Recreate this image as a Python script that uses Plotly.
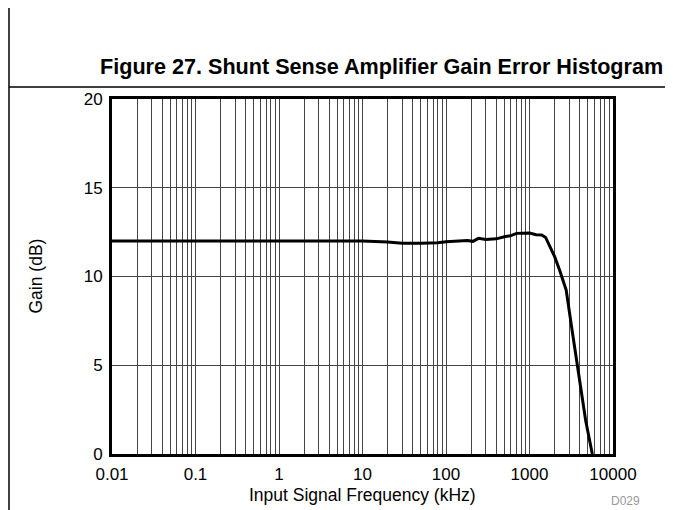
import plotly.graph_objects as go

# gain vs input frequency
freq_khz = [0.01, 0.1, 1, 10, 20, 30, 50, 80, 100, 150, 180, 210, 245, 300, 400,
            500, 600, 700, 800, 920, 1000, 1200, 1400, 1560, 1770, 2000, 2290,
            2750, 3300, 3950, 4700, 5650]
gain_db = [12.0, 12.0, 12.0, 12.0, 11.95, 11.88, 11.87, 11.9, 11.96, 12.0, 12.03,
           11.98, 12.15, 12.08, 12.12, 12.24, 12.3, 12.43, 12.45, 12.47, 12.45,
           12.35, 12.34, 12.2, 11.68, 11.12, 10.37, 9.24, 6.7, 4.17, 1.9, 0.0]

x_tickvals = [0.01, 0.1, 1, 10, 100, 1000, 10000]
x_ticktext = ["0.01", "0.1", "1", "10", "100", "1000", "10000"]
y_tickvals = [0, 5, 10, 15, 20]

font_family = "Liberation Sans, Arial, sans-serif"
grid_color = "#444444"

# the page body adds an 8px offset, so the figure is drawn 8px smaller
W, H = 665, 502
L, R, T, B = 104, 60, 91, 56
PW, PH = W - L - R, H - T - B


def px(x):
    # page pixel x -> paper x
    return (x - 8 - L) / PW


def py(y):
    return (H - B - (y - 8)) / PH


fig = go.Figure()
fig.add_trace(go.Scatter(x=freq_khz, y=gain_db, mode="lines",
                         line=dict(color="black", width=3),
                         showlegend=False, hoverinfo="skip"))

fig.update_xaxes(
    type="log", range=[-2, 4],
    tickvals=x_tickvals, ticktext=x_ticktext, ticks="", ticklabelstandoff=3,
    showgrid=True, gridcolor=grid_color, gridwidth=1,
    minor=dict(dtick="D1", showgrid=True, gridcolor=grid_color, gridwidth=1, ticks=""),
    showline=True, linecolor="black", linewidth=3, mirror=True,
    zeroline=False, tickfont=dict(size=17, color="black"),
)
fig.update_yaxes(
    range=[0, 20], tickvals=y_tickvals, ticks="", ticklabelstandoff=3,
    showgrid=True, gridcolor=grid_color, gridwidth=1,
    showline=True, linecolor="black", linewidth=3, mirror=True,
    zeroline=False, tickfont=dict(size=17, color="black"),
)

# page frame lines (left rule and rule under the caption)
fig.add_shape(type="line", xref="paper", yref="paper", xsizemode="pixel", ysizemode="pixel",
              xanchor=0, yanchor=1, x0=-L + 1, x1=-L + 1, y0=T + 10, y1=-(H - T) - 10,
              line=dict(color="black", width=1.5))
fig.add_shape(type="line", xref="paper", yref="paper", xsizemode="pixel", ysizemode="pixel",
              xanchor=0, yanchor=1, x0=-L + 1, x1=PW + R + 10, y0=12, y1=12,
              line=dict(color="black", width=1.5))

fig.add_annotation(text="<b>Figure 27. Shunt Sense Amplifier Gain Error Histogram</b>",
                   xref="paper", yref="paper", x=px(665), y=py(67),
                   xanchor="right", yanchor="middle", showarrow=False,
                   font=dict(size=21.6, color="black"))
fig.add_annotation(text="Input Signal Frequency (kHz)",
                   xref="paper", yref="paper", x=0.5, y=py(495),
                   xanchor="center", yanchor="middle", showarrow=False,
                   font=dict(size=17.5, color="black"))
fig.add_annotation(text="Gain (dB)", textangle=-90,
                   xref="paper", yref="paper", x=px(35), y=0.5,
                   xanchor="center", yanchor="middle", showarrow=False,
                   font=dict(size=17.5, color="black"))
fig.add_annotation(text="D029",
                   xref="paper", yref="paper", x=px(625), y=py(501),
                   xanchor="center", yanchor="middle", showarrow=False,
                   font=dict(size=12, color="#999999"))

fig.update_layout(
    width=W, height=H,
    margin=dict(l=L, r=R, t=T, b=B, autoexpand=False),
    plot_bgcolor="white", paper_bgcolor="white",
    font=dict(family=font_family, size=17, color="black"),
    showlegend=False,
)

fig.write_html("out.html")
